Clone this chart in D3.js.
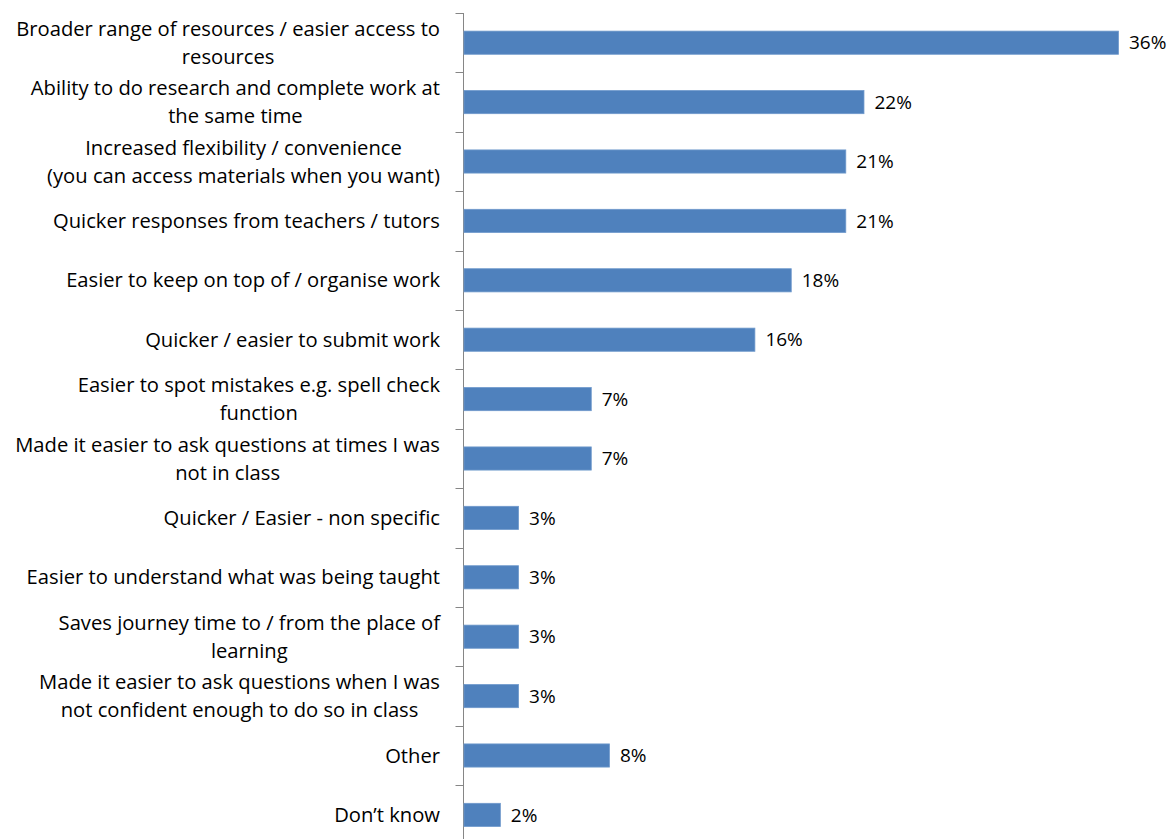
<!DOCTYPE html>
<html>
<head>
<meta charset="utf-8">
<script src="https://cdn.jsdelivr.net/npm/d3@7"></script>
<style>
  body { margin: 0; background: #fff; }
  svg { display: block; }
  text { font-family: "Open Sans", "Liberation Sans", sans-serif; fill: #000; }
</style>
</head>
<body>
<svg id="chart" width="1175" height="839"></svg>
<script>
// Benefits reported, share of respondents (%)
const categories = [
  ["Broader range of resources / easier access to", "resources"],
  ["Ability to do research and complete work at", "the same time"],
  ["Increased flexibility / convenience", "(you can access materials when you want)"],
  ["Quicker responses from teachers / tutors"],
  ["Easier to keep on top of / organise work"],
  ["Quicker / easier to submit work"],
  ["Easier to spot mistakes e.g. spell check", "function"],
  ["Made it easier to ask questions at times I was", "not in class"],
  ["Quicker / Easier - non specific"],
  ["Easier to understand what was being taught"],
  ["Saves journey time to / from the place of", "learning"],
  ["Made it easier to ask questions when I was", "not confident enough to do so in class"],
  ["Other"],
  ["Don\u2019t know"]
];
const values = [36, 22, 21, 21, 18, 16, 7, 7, 3, 3, 3, 3, 8, 2];
const valueLabels = values.map(v => v + "%");

const svg = d3.select("#chart");
const axisX = 463.5;
const plotTop = 13;
const step = 59.4;
const labelSize = 20.2;
const valueSize = 19;

const x = d3.scaleLinear().domain([0, 36]).range([axisX, 1118]);
const y = d3.scaleBand()
  .domain(d3.range(categories.length))
  .range([plotTop, plotTop + step * categories.length])
  .paddingInner(0.61).paddingOuter(0.305);

// Category axis: vertical line with ticks between bands
const tickYs = d3.range(categories.length + 1).map(i => plotTop + step * i);
svg.append("line")
  .attr("x1", axisX).attr("x2", axisX)
  .attr("y1", plotTop).attr("y2", 839)
  .attr("stroke", "#868686").attr("stroke-width", 1);
svg.selectAll("line.tick").data(tickYs).join("line")
  .attr("class", "tick")
  .attr("x1", axisX - 8).attr("x2", axisX)
  .attr("y1", d => Math.round(d) + 0.5).attr("y2", d => Math.round(d) + 0.5)
  .attr("stroke", "#868686").attr("stroke-width", 1);

// Bars
svg.selectAll("rect.bar").data(values).join("rect")
  .attr("class", "bar")
  .attr("x", x(0) + 0.5)
  .attr("y", (d, i) => y(i))
  .attr("width", d => x(d) - x(0))
  .attr("height", y.bandwidth())
  .attr("fill", "#4F81BD")
  .attr("stroke", "#6F99CC")
  .attr("stroke-width", 0.8);

// Value labels
svg.selectAll("text.val").data(values).join("text")
  .attr("class", "val")
  .attr("x", d => x(d) + 11)
  .attr("y", (d, i) => y(i) + y.bandwidth() / 2)
  .attr("dy", "0.35em")
  .attr("font-size", valueSize)
  .text((d, i) => valueLabels[i]);

// Category labels: block right-aligned to the axis, lines centred within the block
const labelRight = 440;
const lineH = 28;
categories.forEach((lines, i) => {
  const cy = y(i) + y.bandwidth() / 2;
  const g = svg.append("g");
  const texts = lines.map(l => g.append("text").attr("font-size", labelSize).text(l));
  const maxW = d3.max(texts, t => t.node().getComputedTextLength());
  const cx = labelRight - maxW / 2;
  texts.forEach((t, j) => {
    t.attr("x", cx)
     .attr("text-anchor", "middle")
     .attr("y", cy + (j - (lines.length - 1) / 2) * lineH)
     .attr("dy", "0.35em");
  });
});
</script>
</body>
</html>
